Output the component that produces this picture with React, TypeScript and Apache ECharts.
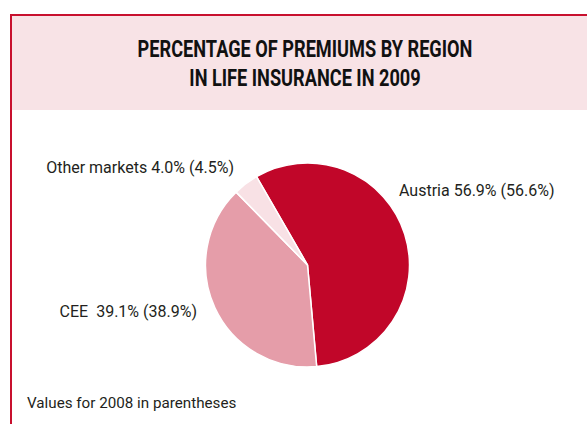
import React, { useEffect, useRef } from "react";
import * as echarts from "echarts";

const titleLines = ["PERCENTAGE OF PREMIUMS BY REGION", "IN LIFE INSURANCE IN 2009"];
const categories = ["Austria", "CEE", "Other markets"];
const values2009 = [56.9, 39.1, 4.0];
const values2008 = [56.6, 38.9, 4.5];
const colors = ["#C10629", "#E59DA9", "#F8E1E5"];
const footnote = "Values for 2008 in parentheses";

const FONT = "Roboto, 'Liberation Sans', sans-serif";

export default function App() {
  const ref = useRef<HTMLDivElement>(null);
  useEffect(() => {
    document.body.style.margin = "0";
    if (!ref.current) return;
    const chart = echarts.init(ref.current, null, { renderer: "svg" });
    const labelPos: Record<number, { x: number; y: number; align: string }> = {
      0: { x: 399, y: 190, align: "left" },
      1: { x: 197, y: 311, align: "right" },
      2: { x: 234, y: 167, align: "right" },
    };
    const titleText = (text: string, y: number) => ({
      type: "text",
      x: 305,
      y,
      scaleX: 0.79,
      style: {
        text,
        font: `bold 23px ${FONT}`,
        fill: "#111111",
        align: "center",
        verticalAlign: "middle",
      },
      z: 2,
    });
    chart.setOption({
      animation: false,
      backgroundColor: "#ffffff",
      graphic: [
        {
          type: "rect",
          shape: { x: 11, y: 15, width: 600, height: 440 },
          style: { fill: "#ffffff", stroke: "#C8102E", lineWidth: 2 },
          z: 0,
        },
        {
          type: "rect",
          shape: { x: 12, y: 16, width: 600, height: 94 },
          style: { fill: "#F8E3E6" },
          z: 1,
        },
        titleText(titleLines[0], 49.5),
        titleText(titleLines[1], 78),
        {
          type: "text",
          x: 27,
          y: 403,
          style: {
            text: footnote,
            font: `15.2px ${FONT}`,
            fill: "#231F20",
            align: "left",
            verticalAlign: "middle",
          },
          z: 2,
        },
      ],
      series: [
        {
          type: "pie",
          center: [307.5, 265],
          radius: [0, 102],
          startAngle: 120,
          clockwise: true,
          avoidLabelOverlap: false,
          itemStyle: { borderColor: "#ffffff", borderWidth: 1.5 },
          emphasis: { disabled: true },
          label: {
            show: true,
            position: "outside",
            fontFamily: FONT,
            fontSize: 16,
            color: "#231F20",
            formatter: (p: any) =>
              `${p.name}${p.dataIndex === 1 ? "  " : " "}${values2009[p.dataIndex].toFixed(1)}% (${values2008[p.dataIndex].toFixed(1)}%)`,
          },
          labelLine: { show: false },
          labelLayout: (params: any) => {
            const lp = labelPos[params.dataIndex];
            return { x: lp.x, y: lp.y, align: lp.align, verticalAlign: "middle" };
          },
          data: categories.map((c, i) => ({
            name: c,
            value: values2009[i],
            itemStyle: { color: colors[i] },
          })),
        },
      ],
    });
    return () => chart.dispose();
  }, []);
  return <div ref={ref} style={{ width: 587, height: 424 }} />;
}
